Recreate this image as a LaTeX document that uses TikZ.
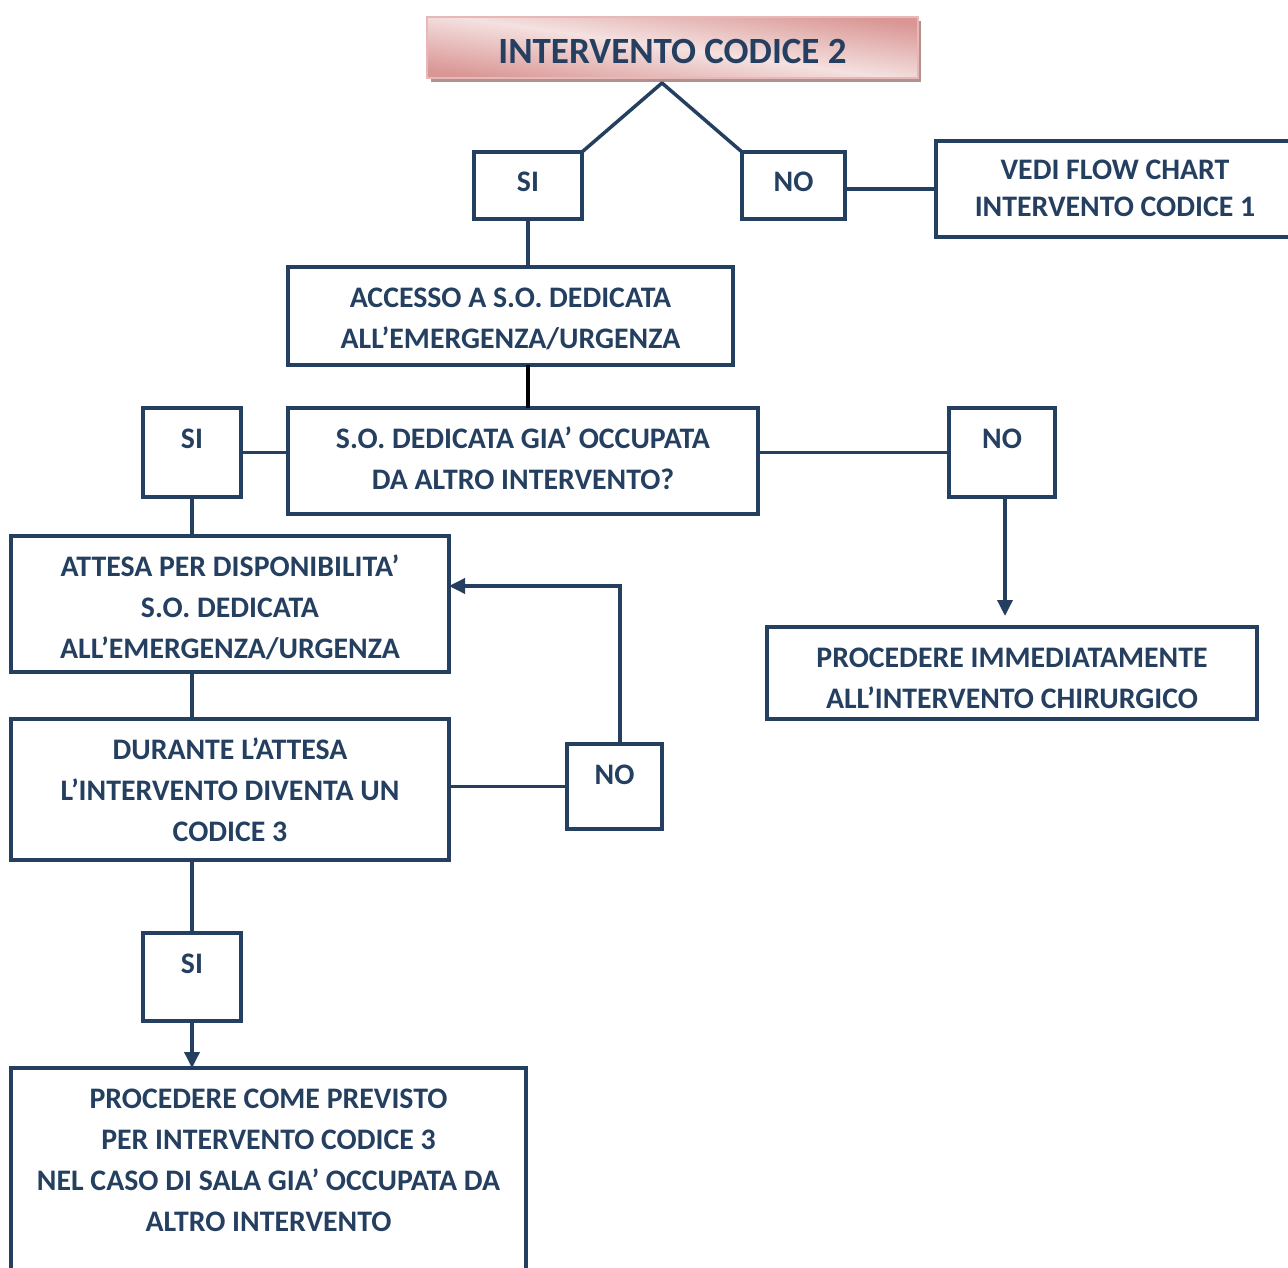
\documentclass[tikz,border=0pt]{standalone}
\usepackage{fontspec}
\setmainfont{Carlito}[BoldFont={Carlito Bold}]
\usetikzlibrary{arrows.meta,calc}
\definecolor{navy}{HTML}{243F60}
\definecolor{pinkdark}{HTML}{D99694}
\definecolor{pinklight}{HTML}{F4E1E0}
\definecolor{pinkborder}{HTML}{E6B9B8}
\definecolor{pinkshadow}{HTML}{B58E8E}
\newcommand{\bxt}[3]{\parbox[c][#2][t]{#1}{\centering\rule{0pt}{40pt}#3}}
\tikzset{
  box/.style={draw=navy, line width=3.5pt, inner sep=0pt, outer sep=0pt, anchor=north west,
    text=navy, font=\fontsize{29.8}{41}\selectfont\bfseries},
  conn/.style={draw=navy, line width=3.5pt},
  arr/.style={conn, -{Triangle[length=16pt,width=15pt]}},
}
\begin{document}
\begin{tikzpicture}[x=1pt,y=-1pt]
\clip (0,0) rectangle (1288,1268);
\useasboundingbox (0,0) rectangle (1288,1268);
% title
\fill[pinkshadow] (431,21) rectangle (921,82);
\node[draw=pinkborder, line width=1.5pt, inner sep=0pt, outer sep=0pt, anchor=north west,
  top color=pinkdark, bottom color=pinkdark, middle color=pinklight, shading angle=-8,
  text=navy, font=\fontsize{37}{40}\selectfont\bfseries] (title) at (427,17)
  {\parbox[c][61pt][t]{491pt}{\centering\rule{0pt}{47pt}INTERVENTO CODICE 2}};
\coordinate (apex) at (662,83);
% nodes
\node[box] (si1) at (474,152) {\bxt{108pt}{67pt}{SI}};
\node[box] (no1) at (742,152) {\bxt{103pt}{67pt}{NO}};
\node[box] (vedi) at (936,141) {\parbox[c][96pt][t]{358pt}{\centering\rule{0pt}{39pt}VEDI FLOW CHART\\[-4pt] INTERVENTO CODICE 1}};
\node[box] (acc) at (288,267) {\bxt{445pt}{98pt}{ACCESSO A S.O. DEDICATA\\ ALL’EMERGENZA/URGENZA}};
\node[box] (so) at (288,408) {\bxt{470pt}{106pt}{S.O. DEDICATA GIA’ OCCUPATA\\ DA ALTRO INTERVENTO?}};
\node[box] (si2) at (143,408) {\bxt{98pt}{89pt}{SI}};
\node[box] (no2) at (949,408) {\bxt{106pt}{89pt}{NO}};
\node[box] (imm) at (767,627) {\bxt{490pt}{92pt}{PROCEDERE IMMEDIATAMENTE\\ ALL’INTERVENTO CHIRURGICO}};
\node[box] (att) at (11,536) {\bxt{438pt}{136pt}{ATTESA PER DISPONIBILITA’\\ S.O. DEDICATA\\ ALL’EMERGENZA/URGENZA}};
\node[box] (dur) at (11,719) {\bxt{438pt}{141pt}{DURANTE L’ATTESA\\ L’INTERVENTO DIVENTA UN\\ CODICE 3}};
\node[box] (no3) at (567,744) {\bxt{95pt}{85pt}{NO}};
\node[box] (si3) at (143,933) {\bxt{98pt}{88pt}{SI}};
\node[box] (c3) at (11,1068) {\bxt{515pt}{230pt}{PROCEDERE COME PREVISTO\\ PER INTERVENTO CODICE 3\\ NEL CASO DI SALA GIA’ OCCUPATA DA\\ ALTRO INTERVENTO}};
% connectors
\draw[conn, line join=round] (si1.north east) -- (apex) -- (no1.north west);
\draw[conn] (no1.east |- vedi.west) -- (vedi.west);
\draw[conn] (si1.south) -- (acc.north -| si1.south);
\draw[draw=black, line width=3.5pt] (acc.south -| si1.south) -- (so.north -| si1.south);
\draw[conn] (si2.east) -- (so.west |- si2.east);
\draw[conn] (so.east |- no2.west) -- (no2.west);
\coordinate (n2b) at (1005,497);
\draw[arr, shorten >=11pt] (n2b) -- (imm.north -| n2b);
\draw[conn] (si2.south) -- (att.north -| si2.south);
\draw[conn] (att.south -| si2.south) -- (dur.north -| si2.south);
\draw[conn] (dur.east |- no3.west) -- (no3.west);
\coordinate (turn) at (620,586);
\draw[arr] (no3.north -| turn) -- (turn) -- (att.east |- turn);
\draw[conn] (dur.south -| si3.north) -- (si3.north);
\draw[arr] (si3.south) -- (c3.north -| si3.south);
\end{tikzpicture}
\end{document}
